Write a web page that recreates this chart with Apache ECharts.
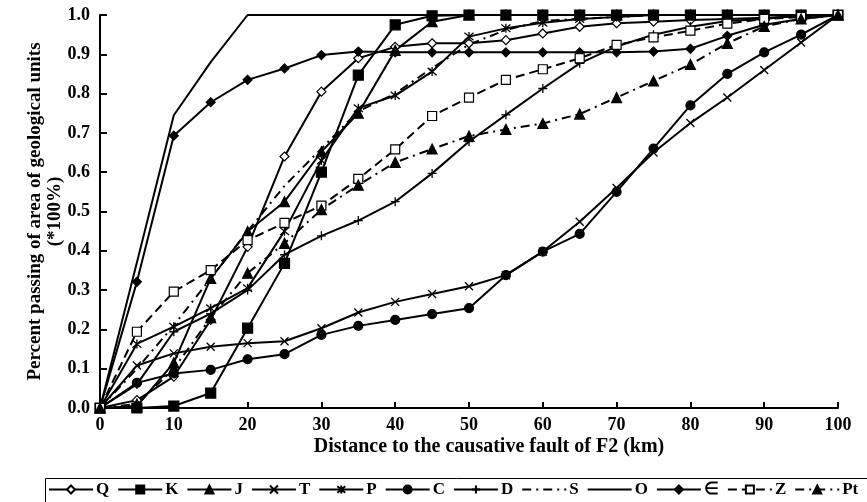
<!DOCTYPE html>
<html>
<head>
<meta charset="utf-8">
<script src="https://cdn.jsdelivr.net/npm/echarts@6/dist/echarts.min.js"></script>
<style>
    html, body { margin: 0; padding: 0; background: #fff; }
    #chart { width: 867px; height: 502px; }
</style>
</head>
<body>
<div id="chart"></div>
<script>
/**
 * 
 * 累计面积 - 距断层距离
 * 
 */
const distances = [0, 5, 10, 15, 20, 25, 30, 35, 40, 45, 50, 55, 60, 65, 70, 75, 80, 85, 90, 95, 100];

const qData  = [0, 0.02, 0.08, 0.224, 0.41, 0.64, 0.805, 0.89, 0.919, 0.928, 0.928, 0.936, 0.953, 0.97, 0.979, 0.983, 0.987, 0.99, 0.993, 0.997, 1.0];
const kData  = [0, 0, 0.005, 0.038, 0.203, 0.368, 0.60, 0.847, 0.975, 0.998, 1, 1, 1, 1, 1, 1, 1, 1, 1, 1, 1];
const jData  = [0, 0.005, 0.115, 0.33, 0.449, 0.525, 0.652, 0.75, 0.91, 0.983, 1, 1, 1, 1, 1, 1, 1, 1, 1, 1, 1];
const tData  = [0, 0.108, 0.139, 0.156, 0.165, 0.17, 0.203, 0.243, 0.27, 0.29, 0.31, 0.338, 0.398, 0.474, 0.56, 0.65, 0.725, 0.79, 0.86, 0.93, 1.0];
const pData  = [0, 0.163, 0.207, 0.254, 0.305, 0.45, 0.63, 0.763, 0.795, 0.856, 0.945, 0.966, 0.98, 0.99, 0.995, 1, 1, 1, 1, 1, 1];
const cData  = [0, 0.064, 0.088, 0.097, 0.124, 0.137, 0.186, 0.209, 0.224, 0.239, 0.254, 0.338, 0.398, 0.443, 0.55, 0.66, 0.77, 0.85, 0.905, 0.95, 1.0];
const dData  = [0, 0.06, 0.194, 0.24, 0.30, 0.39, 0.438, 0.477, 0.525, 0.597, 0.678, 0.746, 0.813, 0.877, 0.92, 0.95, 0.97, 0.985, 0.99, 1, 1];
const sData  = [0, 0.1, 0.21, 0.33, 0.45, 0.565, 0.66, 0.755, 0.80, 0.865, 0.925, 0.962, 0.985, 0.99, 0.995, 1, 1, 1, 1, 1, 1];
const oData  = [0, 0.37, 0.745, 0.88, 1, 1, 1, 1, 1, 1, 1, 1, 1, 1, 1, 1, 1, 1, 1, 1, 1];
const epsData = [0, 0.321, 0.693, 0.778, 0.835, 0.864, 0.898, 0.907, 0.905, 0.905, 0.905, 0.905, 0.905, 0.905, 0.905, 0.907, 0.914, 0.947, 0.975, 0.99, 1.0];
const zData  = [0, 0.194, 0.296, 0.351, 0.427, 0.471, 0.515, 0.583, 0.658, 0.743, 0.79, 0.835, 0.862, 0.89, 0.924, 0.943, 0.96, 0.978, 0.99, 0.995, 1.0];
const ptData = [0, 0.01, 0.10, 0.23, 0.343, 0.419, 0.505, 0.567, 0.625, 0.659, 0.692, 0.709, 0.724, 0.748, 0.79, 0.832, 0.874, 0.928, 0.971, 0.99, 1.0];

const xTicks = [0, 10, 20, 30, 40, 50, 60, 70, 80, 90, 100];

const FONT = '"Liberation Serif", "Times New Roman", serif';
const X_MARK = 'path://M0,0L10,10M10,0L0,10';
const STAR_MARK = 'path://M0,0L10,10M10,0L0,10M5,-1L5,11';
const PLUS_MARK = 'path://M5,0L5,10M0,5L10,5';

function pairs(arr) {
    return arr.map((v, i) => [distances[i], v]);
}

// 每条曲线的样式
function makeSeries(name, data, symbol, opts) {
    opts = opts || {};
    return {
        name: name,
        type: 'line',
        data: pairs(data),
        symbol: symbol,
        symbolSize: opts.size || 9,
        showAllSymbol: true,
        lineStyle: {
            color: '#000',
            width: 2,
            type: opts.dash || 'solid'
        },
        itemStyle: {
            color: opts.open ? '#fff' : '#000',
            borderColor: '#000',
            borderWidth: opts.bw || 1.2
        },
        emphasis: { disabled: true }
    };
}

const seriesList = [
    makeSeries('Q', qData, 'diamond', { open: true, size: 9 }),
    makeSeries('K', kData, 'rect', { size: 10 }),
    makeSeries('J', jData, 'triangle', { size: 10 }),
    makeSeries('T', tData, X_MARK, { size: 8, bw: 1.3 }),
    makeSeries('P', pData, STAR_MARK, { size: 9, bw: 1.3 }),
    makeSeries('C', cData, 'circle', { size: 9 }),
    makeSeries('D', dData, PLUS_MARK, { size: 9, bw: 1.3 }),
    makeSeries('S', sData, 'none', { dash: [9, 5, 2, 5] }),
    makeSeries('O', oData, 'none'),
    makeSeries('∈', epsData, 'diamond', { size: 9 }),
    makeSeries('Z', zData, 'rect', { open: true, size: 9, dash: [9, 5] }),
    makeSeries('Pt', ptData, 'triangle', { size: 10, dash: [9, 5, 2, 5] })
];

// 没有标记的曲线, 图例里也不画标记
const legendData = seriesList.map(s => {
    if (s.symbol === 'none') {
        return { name: s.name, itemStyle: { color: 'rgba(0,0,0,0)', borderWidth: 0, opacity: 0 } };
    }
    return { name: s.name };
});

const option = {
    animation: false,
    backgroundColor: '#fff',
    textStyle: { fontFamily: FONT, color: '#000' },
    grid: {
        left: 100,
        right: 29,
        top: 15,
        bottom: 94,
        containLabel: false
    },
    legend: {
        left: 48,
        top: 481,
        itemWidth: 44,
        itemHeight: 10,
        itemGap: 8,
        padding: 0,
        textStyle: {
            fontFamily: FONT,
            fontWeight: 'bold',
            fontSize: 17,
            color: '#000',
            padding: [0, 0, 0, -2]
        },
        data: legendData
    },
    xAxis: {
        type: 'value',
        min: 0,
        max: 100,
        interval: 10,
        name: 'Distance to the causative fault of F2 (km)',
        nameLocation: 'middle',
        nameGap: 29,
        nameMoveOverlap: false,
        nameTextStyle: {
            fontFamily: FONT, fontWeight: 'bold', fontSize: 20, color: '#000',
            padding: [0, 0, 0, 40]
        },
        axisLine: { lineStyle: { color: '#000', width: 2 } },
        axisTick: { inside: true, length: 6, lineStyle: { color: '#000', width: 2 } },
        axisLabel: {
            fontFamily: FONT, fontWeight: 'bold', fontSize: 18, color: '#000', margin: 8,
            customValues: xTicks
        },
        splitLine: { show: false }
    },
    yAxis: {
        type: 'value',
        min: 0,
        max: 1,
        interval: 0.1,
        name: 'Percent passing of area of geological units\n(*100%)',
        nameLocation: 'middle',
        nameRotate: 90,
        nameGap: 35,
        nameMoveOverlap: false,
        nameTextStyle: { fontFamily: FONT, fontWeight: 'bold', fontSize: 19, color: '#000', lineHeight: 20 },
        axisLine: { show: true, lineStyle: { color: '#000', width: 2 } },
        axisTick: { show: true, inside: true, length: 7, lineStyle: { color: '#000', width: 2 } },
        axisLabel: {
            fontFamily: FONT, fontWeight: 'bold', fontSize: 18, color: '#000', margin: 10,
            formatter: v => v.toFixed(1)
        },
        splitLine: { show: false }
    },
    graphic: [
        {
            type: 'rect',
            left: 43,
            top: 476,
            shape: { width: 840, height: 40 },
            style: { fill: 'none', stroke: '#000', lineWidth: 1 },
            silent: true
        }
    ],
    series: seriesList
};

const chart = echarts.init(document.getElementById('chart'), null, { renderer: 'canvas' });
chart.setOption(option);
</script>
</body>
</html>
